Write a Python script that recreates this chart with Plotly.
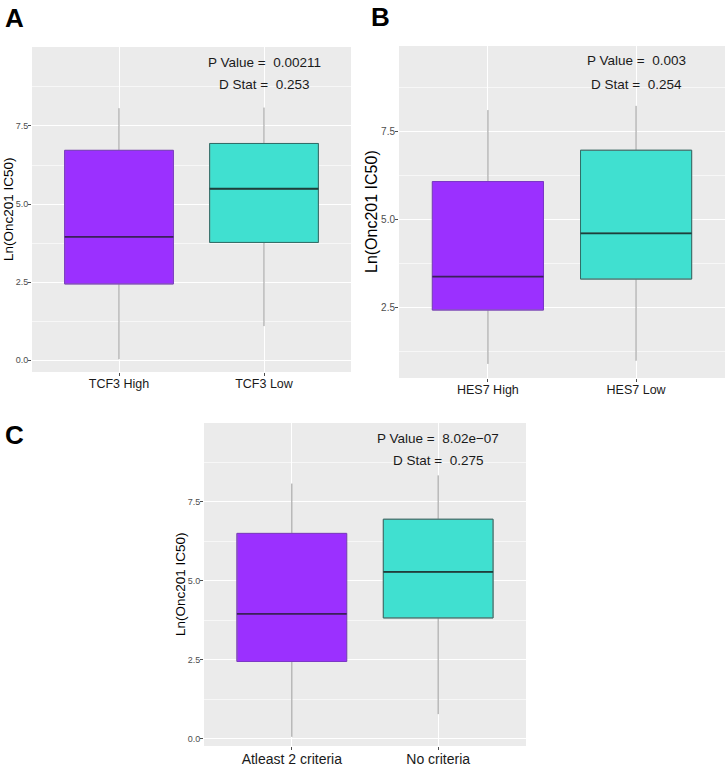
import plotly.graph_objects as go

# ---------------- data ----------------
cats_a = ["TCF3 High", "TCF3 Low"]
q1_a = [2.44, 3.77]
med_a = [3.95, 5.49]
q3_a = [6.72, 6.94]
lo_a = [0.03, 1.09]
hi_a = [8.07, 8.09]
stats_a = ["P Value =  0.00211", "D Stat =  0.253"]

cats_b = ["HES7 High", "HES7 Low"]
q1_b = [2.42, 3.30]
med_b = [3.37, 4.60]
q3_b = [6.07, 6.96]
lo_b = [0.89, 0.98]
hi_b = [8.10, 8.22]
stats_b = ["P Value =  0.003", "D Stat =  0.254"]

cats_c = ["Atleast 2 criteria", "No criteria"]
q1_c = [2.44, 3.82]
med_c = [3.95, 5.28]
q3_c = [6.50, 6.95]
lo_c = [0.05, 0.77]
hi_c = [8.08, 8.34]
stats_c = ["P Value =  8.02e\u221207", "D Stat =  0.275"]

stat_y = [9.52, 8.82]
ytick_major = [0.0, 2.5, 5.0, 7.5]
ytick_minor = [1.25, 3.75, 6.25, 8.75]
y_title = "Ln(Onc201 IC50)"

fills = ["#9B30FF", "#40E0D0"]
edges = ["#7B33C9", "#2F6E68"]
medians = ["#3B1F5C", "#1D3F3B"]

W, H = 727, 768
FONT = "Liberation Sans, Arial, sans-serif"

fig = go.Figure()

panels = [
    dict(cats=cats_a, q1=q1_a, med=med_a, q3=q3_a, lo=lo_a, hi=hi_a, stats=stats_a,
         xd=(32, 351), yd=(47, 372), yr=(-0.38, 10.03), xa="x", ya="y",
         xfs=12.5, yfs=9, tfs=13.5, tx=8.5, letter="A", lx=14, ly=1),
    dict(cats=cats_b, q1=q1_b, med=med_b, q3=q3_b, lo=lo_b, hi=hi_b, stats=stats_b,
         xd=(399, 725), yd=(46, 378), yr=(0.49, 9.92), xa="x2", ya="y2",
         xfs=12.5, yfs=10, tfs=16, tx=371, letter="B", lx=381, ly=0),
    dict(cats=cats_c, q1=q1_c, med=med_c, q3=q3_c, lo=lo_c, hi=hi_c, stats=stats_c,
         xd=(204, 526), yd=(423, 746), yr=(-0.24, 10.0), xa="x3", ya="y3",
         xfs=14, yfs=9, tfs=13.5, tx=180.5, letter="C", lx=14, ly=418),
]

layout_axes = {}
annotations = []
for i, p in enumerate(panels):
    for j, c in enumerate(p["cats"]):
        # whiskers + fill
        fig.add_trace(go.Box(
            x=[c], q1=[p["q1"][j]], median=[p["med"][j]], q3=[p["q3"][j]],
            lowerfence=[p["lo"][j]], upperfence=[p["hi"][j]],
            width=0.75, whiskerwidth=0, boxpoints=False,
            fillcolor=fills[j], line=dict(color="#9A9A9A", width=1),
            xaxis=p["xa"], yaxis=p["ya"], showlegend=False, hoverinfo="skip"))
        # box outline
        fig.add_trace(go.Box(
            x=[c], q1=[p["q1"][j]], median=[p["med"][j]], q3=[p["q3"][j]],
            lowerfence=[p["q1"][j]], upperfence=[p["q3"][j]],
            width=0.75, whiskerwidth=0, boxpoints=False,
            fillcolor="rgba(0,0,0,0)", line=dict(color=edges[j], width=1),
            xaxis=p["xa"], yaxis=p["ya"], showlegend=False, hoverinfo="skip"))
        # median line
        fig.add_trace(go.Box(
            x=[c], q1=[p["med"][j]], median=[p["med"][j]], q3=[p["med"][j]],
            lowerfence=[p["med"][j]], upperfence=[p["med"][j]],
            width=0.75, whiskerwidth=0, boxpoints=False,
            fillcolor="rgba(0,0,0,0)", line=dict(color=medians[j], width=1.8),
            xaxis=p["xa"], yaxis=p["ya"], showlegend=False, hoverinfo="skip"))

    xk = "xaxis" if i == 0 else f"xaxis{i+1}"
    yk = "yaxis" if i == 0 else f"yaxis{i+1}"
    layout_axes[xk] = dict(
        domain=[p["xd"][0] / W, p["xd"][1] / W], anchor=p["ya"], automargin=False,
        type="category", categoryorder="array", categoryarray=p["cats"],
        range=[-0.6, 1.6], showgrid=True, gridcolor="white", gridwidth=1.1,
        zeroline=False, showline=False, ticks="outside", ticklen=3,
        tickcolor="#4D4D4D", tickfont=dict(family=FONT, size=p["xfs"], color="#1A1A1A"),
        ticklabelstandoff=-3)
    layout_axes[yk] = dict(
        domain=[1 - p["yd"][1] / H, 1 - p["yd"][0] / H], anchor=p["xa"], automargin=False,
        range=list(p["yr"]), tickvals=ytick_major,
        ticktext=[f"{v:.1f}" for v in ytick_major],
        showgrid=True, gridcolor="white", gridwidth=1.1,
        minor=dict(tickvals=ytick_minor, showgrid=True, gridcolor="#F7F7F7", gridwidth=0.6),
        zeroline=False, showline=False, ticks="outside", ticklen=3, tickcolor="#4D4D4D",
        tickfont=dict(family=FONT, size=p["yfs"], color="#4D4D4D"),
        ticklabelstandoff=-2)

    for k, s in enumerate(p["stats"]):
        annotations.append(dict(
            x=p["cats"][1], y=stat_y[k], xref=p["xa"], yref=p["ya"], text=s,
            showarrow=False, xanchor="center", yanchor="middle",
            font=dict(family=FONT, size=13.5, color="#1A1A1A")))
    # y title
    annotations.append(dict(
        x=p["tx"] / W, y=1 - ((p["yd"][0] + p["yd"][1]) / 2) / H, xref="paper", yref="paper",
        text=y_title, textangle=-90, showarrow=False, xanchor="center", yanchor="middle",
        font=dict(family=FONT, size=p["tfs"], color="black")))
    # panel letter
    annotations.append(dict(
        x=p["lx"] / W, y=1 - p["ly"] / H, xref="paper", yref="paper",
        text=f"<b>{p['letter']}</b>", showarrow=False, xanchor="center", yanchor="top",
        font=dict(family=FONT, size=26, color="black")))

fig.update_layout(
    width=W, height=H, margin=dict(l=0, r=0, t=0, b=0, autoexpand=False),
    paper_bgcolor="white", plot_bgcolor="#EBEBEB",
    boxmode="overlay", annotations=annotations, **layout_axes)

fig.write_html("out.html", config={"displayModeBar": False},
               post_script="document.body.style.margin='0px';document.body.style.padding='0px';")
